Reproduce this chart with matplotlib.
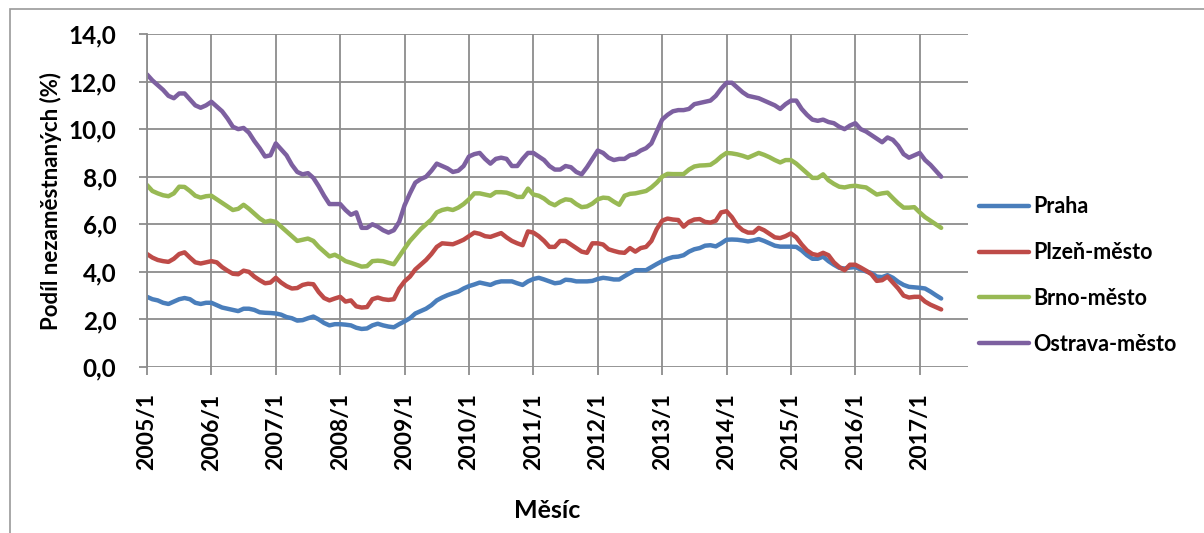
import numpy as np
import matplotlib
matplotlib.use("Agg")
import matplotlib.pyplot as plt
from matplotlib.patches import Rectangle

plt.rcParams['font.family'] = ['Lato', 'DejaVu Sans']

# monthly categories 2005/1 .. 2017/5
months = [f"{y}/{m}" for y in range(2005, 2018) for m in range(1, 13)][:149]
tick_labels = [f"{y}/1" for y in range(2005, 2018)]

praha = [
    2.95, 2.85, 2.80, 2.70, 2.65, 2.75, 2.85, 2.90, 2.85, 2.70, 2.65, 2.70,
    2.70, 2.60, 2.50, 2.45, 2.40, 2.35, 2.45, 2.45, 2.40, 2.30, 2.28, 2.27,
    2.25, 2.20, 2.10, 2.05, 1.95, 1.97, 2.05, 2.12, 2.00, 1.85, 1.75, 1.80,
    1.80, 1.78, 1.75, 1.65, 1.60, 1.62, 1.75, 1.82, 1.75, 1.70, 1.67, 1.80,
    1.92, 2.05, 2.25, 2.35, 2.45, 2.60, 2.80, 2.92, 3.02, 3.10, 3.17, 3.30,
    3.40, 3.47, 3.55, 3.50, 3.45, 3.55, 3.60, 3.60, 3.60, 3.52, 3.45, 3.60,
    3.70, 3.75, 3.68, 3.60, 3.52, 3.55, 3.67, 3.65, 3.60, 3.60, 3.60, 3.62,
    3.70, 3.75, 3.72, 3.68, 3.68, 3.82, 3.95, 4.07, 4.07, 4.07, 4.20, 4.33,
    4.45, 4.55, 4.62, 4.64, 4.70, 4.85, 4.95, 5.00, 5.10, 5.12, 5.07, 5.20,
    5.35, 5.36, 5.35, 5.32, 5.28, 5.32, 5.38, 5.30, 5.20, 5.10, 5.06, 5.06,
    5.06, 5.05, 4.90, 4.70, 4.55, 4.55, 4.64, 4.45, 4.30, 4.17, 4.14, 4.18,
    4.20, 4.10, 4.02, 3.95, 3.80, 3.78, 3.86, 3.75, 3.58, 3.45, 3.37, 3.35,
    3.33, 3.30, 3.17, 3.02, 2.88,
]

plzen = [
    4.75, 4.60, 4.50, 4.45, 4.42, 4.55, 4.75, 4.82, 4.60, 4.40, 4.35, 4.40,
    4.45, 4.40, 4.20, 4.05, 3.92, 3.90, 4.05, 4.00, 3.80, 3.65, 3.52, 3.55,
    3.75, 3.55, 3.40, 3.30, 3.32, 3.45, 3.50, 3.48, 3.15, 2.90, 2.80, 2.88,
    2.95, 2.75, 2.80, 2.55, 2.50, 2.52, 2.85, 2.92, 2.85, 2.82, 2.85, 3.30,
    3.60, 3.80, 4.10, 4.30, 4.50, 4.75, 5.05, 5.20, 5.18, 5.16, 5.25, 5.35,
    5.50, 5.65, 5.60, 5.50, 5.47, 5.55, 5.63, 5.45, 5.30, 5.20, 5.12, 5.70,
    5.65, 5.50, 5.30, 5.05, 5.05, 5.30, 5.30, 5.15, 5.00, 4.85, 4.80, 5.20,
    5.20, 5.15, 4.95, 4.88, 4.82, 4.80, 5.00, 4.85, 5.00, 5.05, 5.30, 5.80,
    6.15, 6.24, 6.20, 6.18, 5.90, 6.10, 6.20, 6.22, 6.10, 6.07, 6.15, 6.50,
    6.55, 6.30, 5.95, 5.75, 5.65, 5.65, 5.85, 5.75, 5.60, 5.45, 5.42, 5.50,
    5.62, 5.45, 5.15, 4.90, 4.75, 4.70, 4.80, 4.70, 4.40, 4.20, 4.07, 4.30,
    4.30, 4.18, 4.05, 3.90, 3.62, 3.65, 3.80, 3.55, 3.30, 3.00, 2.92, 2.95,
    2.95, 2.75, 2.62, 2.52, 2.42,
]

brno = [
    7.65, 7.40, 7.30, 7.22, 7.18, 7.30, 7.58, 7.57, 7.40, 7.20, 7.12, 7.18,
    7.20, 7.05, 6.90, 6.75, 6.60, 6.65, 6.82, 6.65, 6.45, 6.25, 6.10, 6.15,
    6.10, 5.90, 5.70, 5.50, 5.30, 5.35, 5.40, 5.30, 5.05, 4.85, 4.65, 4.72,
    4.60, 4.45, 4.38, 4.30, 4.22, 4.24, 4.45, 4.47, 4.45, 4.38, 4.32, 4.65,
    4.98, 5.30, 5.55, 5.80, 6.00, 6.20, 6.50, 6.60, 6.65, 6.60, 6.70, 6.85,
    7.05, 7.30, 7.30, 7.25, 7.20, 7.35, 7.35, 7.33, 7.25, 7.15, 7.15, 7.50,
    7.25, 7.20, 7.08, 6.90, 6.80, 6.95, 7.05, 7.02, 6.85, 6.72, 6.75, 6.87,
    7.05, 7.12, 7.10, 6.95, 6.82, 7.20, 7.28, 7.30, 7.35, 7.40, 7.55, 7.75,
    8.00, 8.12, 8.11, 8.11, 8.11, 8.30, 8.43, 8.47, 8.48, 8.50, 8.65, 8.85,
    9.00, 8.98, 8.94, 8.88, 8.80, 8.90, 9.00, 8.92, 8.82, 8.70, 8.60, 8.70,
    8.70, 8.55, 8.35, 8.15, 7.95, 7.95, 8.10, 7.85, 7.70, 7.58, 7.55, 7.60,
    7.62, 7.58, 7.55, 7.40, 7.25, 7.30, 7.33, 7.10, 6.88, 6.70, 6.70, 6.72,
    6.50, 6.30, 6.15, 6.00, 5.85,
]

ostrava = [
    12.30, 12.05, 11.85, 11.65, 11.40, 11.30, 11.50, 11.50, 11.25, 11.00, 10.90, 11.00,
    11.15, 10.95, 10.75, 10.45, 10.10, 10.00, 10.05, 9.85, 9.50, 9.20, 8.85, 8.90,
    9.40, 9.15, 8.90, 8.50, 8.20, 8.10, 8.15, 7.95, 7.60, 7.20, 6.85, 6.85,
    6.85, 6.60, 6.40, 6.50, 5.85, 5.85, 6.00, 5.90, 5.75, 5.65, 5.75, 6.10,
    6.80, 7.30, 7.75, 7.90, 8.00, 8.25, 8.55, 8.45, 8.35, 8.20, 8.25, 8.45,
    8.85, 8.95, 9.00, 8.75, 8.55, 8.75, 8.80, 8.75, 8.45, 8.45, 8.75, 9.00,
    9.00, 8.85, 8.70, 8.45, 8.30, 8.30, 8.45, 8.40, 8.20, 8.10, 8.40, 8.75,
    9.10, 9.00, 8.80, 8.70, 8.75, 8.75, 8.90, 8.95, 9.10, 9.20, 9.40, 9.90,
    10.40, 10.60, 10.75, 10.80, 10.80, 10.85, 11.05, 11.10, 11.15, 11.20, 11.40, 11.70,
    11.95, 11.95, 11.75, 11.55, 11.40, 11.35, 11.30, 11.20, 11.10, 11.00, 10.85, 11.05,
    11.20, 11.20, 10.85, 10.60, 10.40, 10.35, 10.40, 10.30, 10.25, 10.10, 10.00, 10.15,
    10.25, 10.00, 9.90, 9.75, 9.60, 9.45, 9.65, 9.55, 9.30, 8.95, 8.80, 8.90,
    9.00, 8.70, 8.50, 8.25, 8.00,
]

series = [
    ("Praha", praha, "#4a7ebb"),
    ("Plzeň-město", plzen, "#be4b48"),
    ("Brno-město", brno, "#98b954"),
    ("Ostrava-město", ostrava, "#7d60a0"),
]

fig = plt.figure(figsize=(12.04, 5.33), dpi=100)
ax = fig.add_axes([147 / 1204, 1 - 367 / 533, (968 - 147) / 1204, (367 - 34) / 533])

# outer chart frame (partly cut off in the original)
fig.patches.append(Rectangle((10 / 1204, -0.1), 1.2, 1 - 9 / 533 + 0.1,
                             transform=fig.transFigure, fill=False,
                             edgecolor="#999999", lw=1.2))

x = np.arange(len(months))
for name, vals, col in series:
    ax.plot(x, vals, color=col, lw=3.2, label=name, solid_capstyle="round")

ax.set_xlim(0, 153)
ax.set_ylim(0, 14)
yt = np.arange(0, 14.1, 2)
ax.set_yticks(yt)
ax.set_yticklabels([f"{v:.1f}".replace(".", ",") for v in yt],
                   fontsize=17.5, fontweight="bold")
ax.set_xticks(x[::12])
ax.set_xticklabels(tick_labels, rotation=90, fontsize=16.5, fontweight="bold")

ax.grid(True, color="#8c8c8c", lw=1.3)
ax.set_axisbelow(True)
for s in ax.spines.values():
    s.set_visible(False)
ax.spines["left"].set_visible(True)
ax.spines["left"].set_color("#8c8c8c")
ax.spines["left"].set_linewidth(1.3)
ax.tick_params(axis="y", color="#8c8c8c", length=6, width=1.3, pad=16)
ax.tick_params(axis="x", color="#8c8c8c", length=6, width=1.3, pad=13)

ax.set_ylabel("Podíl nezaměstnaných (%)", fontsize=16, fontweight="bold", labelpad=5)
ax.set_xlabel("Měsíc", fontsize=18, fontweight="bold", labelpad=22)
ax.xaxis.set_label_coords(0.487, -0.395)

leg = ax.legend(loc="center left", bbox_to_anchor=(0.99, 0.275), frameon=False,
                prop={"size": 15.5, "weight": "bold"}, handlelength=2.3,
                handletextpad=0.2, labelspacing=1.15)

fig.savefig("out.png", dpi=100)
